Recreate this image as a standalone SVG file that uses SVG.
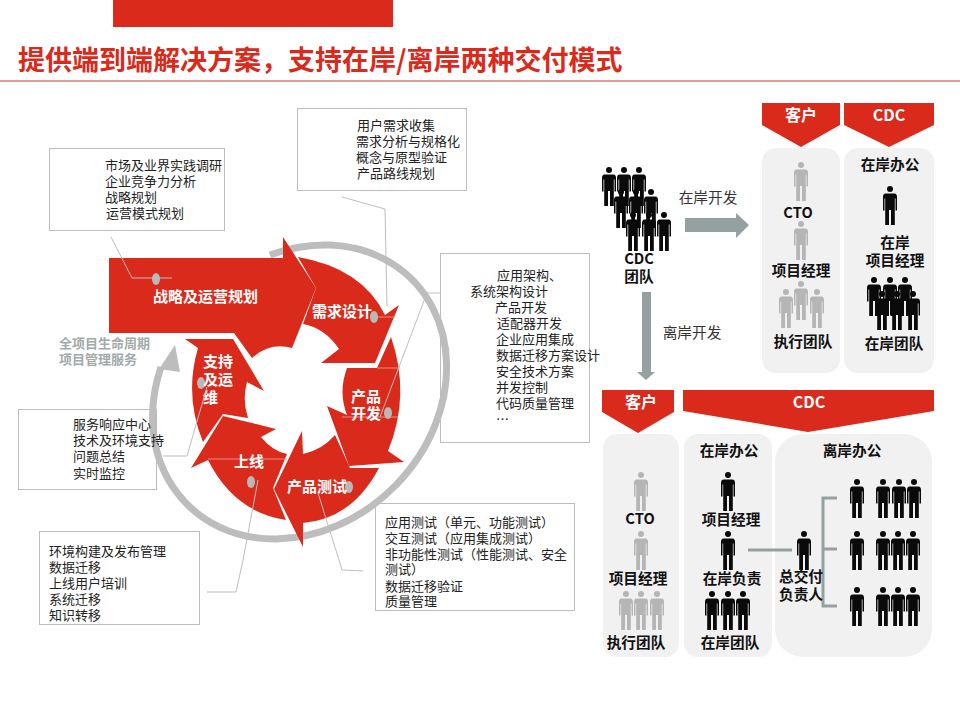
<svg xmlns="http://www.w3.org/2000/svg" width="960" height="720" viewBox="0 0 960 720">
<style>
text{font-family:"Noto Sans CJK SC","Noto Sans",sans-serif;dominant-baseline:central;transform:translateY(-2px)}
.box{fill:none;stroke:#bdbdbd;stroke-width:1}
.t{font-size:13px;fill:#222}
.red{fill:#d92a1c}
.w{font-size:15px;font-weight:700;fill:#fff}
.bn{font-size:16px;font-weight:700;fill:#fff;text-anchor:middle}
.k{font-size:14.67px;font-weight:700;fill:#111;text-anchor:middle}
.n{font-size:14.67px;fill:#333;text-anchor:middle}
.g{font-size:13px;font-weight:700;fill:#a3aaaa}
.panel{fill:#f1f1f1}
.lead{fill:none;stroke:#bdbdbd;stroke-width:1}
.pale{fill:none;stroke:#e98a80;stroke-width:1}
.dot{fill:#b9b9b9}
.conn{fill:none;stroke:#95a0a0;stroke-width:3}
.blk{fill:#0a0a0a}
.gry{fill:#b5b5b5}
</style>
<defs>
<g id="p"><circle cx="0" cy="3" r="3"/><path d="M-4.5,7.5H4.5Q7,7.5 7,11V24.5H5.5V12.5H4.8V39H1V24H-1V39H-4.8V12.5H-5.5V24.5H-7V11Q-7,7.5 -4.5,7.5Z"/></g>
</defs>
<rect width="960" height="720" fill="#fff"/>
<g id="header">
<rect class="red" x="113" y="0" width="280" height="27"/>
<text x="18" y="60" font-weight="700" fill="#d92a1c" style="font-size:27px">提供端到端解决方案，支持在岸/离岸两种交付模式</text>
<line x1="0" y1="81" x2="960" y2="81" stroke="#c9392c" stroke-width="1"/>
</g>
<g id="ring">
<path d="M161,367A159,134 -45 1 0 270,255" fill="none" stroke="#bdbdbd" stroke-width="7"/>
<polygon points="175,345 159,369 180,372" fill="#bdbdbd"/>
</g>
<g id="cycle-strategy">
<path class="red" d="M109,258H283V237L316,288L292,348Q270,342 252,358L234,333H109Z"/>
<ellipse class="dot" cx="156" cy="279" rx="4" ry="6"/>
<text class="w" x="153" y="297">战略及运营规划</text>
</g>
<g id="cycle-demand">
<path class="red" d="M298,257L316,288L303,324Q325,328 339,349L321,363H375L399,305L385,315Q362,268 298,257Z"/>
<path class="pale" d="M374,317H395"/>
<ellipse class="dot" cx="374" cy="317" rx="4" ry="6"/>
<text class="w" x="312" y="312">需求设计</text>
</g>
<g id="cycle-dev">
<path class="red" d="M391,337Q411,395 388,451L404,462L349,466L327,406L347,415Q338,392 347,368H377Z"/>
<path class="pale" d="M342,417H398M377,368H400"/>
<ellipse class="dot" cx="388" cy="413" rx="4" ry="6"/>
<text class="w" x="351" y="397">产品</text>
<text class="w" x="351" y="414">开发</text>
</g>
<g id="cycle-test">
<path class="red" d="M379,468Q352,519 303,523V547L274,489L302,431L303,454Q322,450 335,435L350,468Z"/>
<ellipse class="dot" cx="349" cy="487" rx="4" ry="6"/>
<text class="w" x="287" y="487">产品测试</text>
</g>
<g id="cycle-online">
<path class="red" d="M286,520Q234,512 208,460L191,468L223,416L276,429L261,437Q272,451 287,454L273,488Z"/>
<path class="pale" d="M208,459H287"/>
<ellipse class="dot" cx="251" cy="482" rx="4" ry="6"/>
<text class="w" x="234" y="462">上线</text>
</g>
<g id="cycle-support">
<path class="red" d="M185,339H233L264,391L247,382Q242,400 248,418L223,414L203,442Q184,395 198,348Z"/>
<ellipse class="dot" cx="201" cy="383" rx="4" ry="6"/>
<text class="w" x="203" y="362">支持</text>
<text class="w" x="203" y="380">及运</text>
<text class="w" x="203" y="398">维</text>
</g>
<g id="connectors">
<path class="lead" d="M111,237L132,278H172"/>
<path class="lead" d="M342,197L385,209L387,306"/>
<path class="lead" d="M440,293H427L380,417"/>
<path class="lead" d="M318,493L339,560L342,570L363,571"/>
<path class="lead" d="M258,480L243,560L236,592H207"/>
<path class="lead" d="M207,387L187,456H163"/>
</g>
<g id="pm-label">
<text class="g" x="59" y="344">全项目生命周期</text>
<text class="g" x="59" y="360">项目管理服务</text>
</g>
<g id="box-strategy">
<rect class="box" x="49.500" y="148.500" width="175" height="82"/>
<text class="t" x="105" y="166">市场及业界实践调研</text>
<text class="t" x="105" y="182">企业竞争力分析</text>
<text class="t" x="105" y="198">战略规划</text>
<text class="t" x="106" y="214">运营模式规划</text>
</g>
<g id="box-demand">
<rect class="box" x="297.500" y="108.500" width="169" height="82"/>
<text class="t" x="357" y="126">用户需求收集</text>
<text class="t" x="356" y="142">需求分析与规格化</text>
<text class="t" x="356" y="158">概念与原型验证</text>
<text class="t" x="357" y="174">产品路线规划</text>
</g>
<g id="box-dev">
<rect class="box" x="440.500" y="253.500" width="149" height="189"/>
<text class="t" x="497" y="276">应用架构、</text>
<text class="t" x="470" y="292">系统架构设计</text>
<text class="t" x="495" y="308">产品开发</text>
<text class="t" x="497" y="324">适配器开发</text>
<text class="t" x="496" y="340">企业应用集成</text>
<text class="t" x="496" y="356">数据迁移方案设计</text>
<text class="t" x="496" y="372">安全技术方案</text>
<text class="t" x="496" y="388">并发控制</text>
<text class="t" x="496" y="404">代码质量管理</text>
<text class="t" x="496" y="420">…</text>
</g>
<g id="box-support">
<rect class="box" x="18.500" y="409.500" width="138" height="80"/>
<text class="t" x="73" y="425">服务响应中心</text>
<text class="t" x="73" y="441">技术及环境支持</text>
<text class="t" x="73" y="457">问题总结</text>
<text class="t" x="73" y="474">实时监控</text>
</g>
<g id="box-online">
<rect class="box" x="39.500" y="531.500" width="160" height="93"/>
<text class="t" x="49" y="552">环境构建及发布管理</text>
<text class="t" x="49" y="568">数据迁移</text>
<text class="t" x="49" y="584">上线用户培训</text>
<text class="t" x="49" y="600">系统迁移</text>
<text class="t" x="49" y="616">知识转移</text>
</g>
<g id="box-test">
<rect class="box" x="375.500" y="503.500" width="199" height="107"/>
<text class="t" x="385" y="523">应用测试（单元、功能测试）</text>
<text class="t" x="385" y="539">交互测试（应用集成测试）</text>
<text class="t" x="385" y="555">非功能性测试（性能测试、安全</text>
<text class="t" x="385" y="570">测试）</text>
<text class="t" x="385" y="587">数据迁移验证</text>
<text class="t" x="385" y="602">质量管理</text>
</g>
<g id="cdc-team" class="blk">
<use href="#p" x="609" y="167"/><use href="#p" x="624" y="167"/><use href="#p" x="639" y="167"/>
<use href="#p" x="621" y="189"/><use href="#p" x="636" y="189"/><use href="#p" x="651" y="189"/>
<use href="#p" x="633" y="212"/><use href="#p" x="649" y="212"/><use href="#p" x="664" y="212"/>
<text class="k" x="639" y="259">CDC</text>
<text class="k" x="639" y="277">团队</text>
</g>
<g id="onshore-arrow">
<polygon points="685,218 736,218 736,213 749,225 736,238 736,232 685,232" fill="#95a0a0"/>
<text class="n" x="708" y="198">在岸开发</text>
</g>
<g id="offshore-arrow">
<polygon points="642,292 651,292 651,372 655,372 646,380 637,372 642,372" fill="#95a0a0"/>
<text class="n" x="692" y="333">离岸开发</text>
</g>
<g id="top-client">
<polygon class="red" points="762,103 840,103 840,125 801,147 762,125"/>
<text class="bn" x="801" y="116">客户</text>
<rect class="panel" x="762" y="148" width="78" height="225" rx="14"/>
<g class="gry"><use href="#p" x="801" y="162"/><use href="#p" x="801" y="221"/><use href="#p" x="786" y="289"/><use href="#p" x="801" y="281"/><use href="#p" x="817" y="289"/></g>
<text class="k" x="798" y="213">CTO</text>
<text class="k" x="801" y="271">项目经理</text>
<text class="k" x="803" y="342">执行团队</text>
</g>
<g id="top-cdc">
<polygon class="red" points="844,103 934,103 934,125 889,147 844,125"/>
<text class="bn" x="889" y="116">CDC</text>
<rect class="panel" x="844" y="148" width="90" height="225" rx="14"/>
<g class="blk"><use href="#p" x="890" y="186"/><use href="#p" x="874" y="277"/><use href="#p" x="890" y="277"/><use href="#p" x="905" y="277"/><use href="#p" x="882" y="291"/><use href="#p" x="897" y="291"/><use href="#p" x="913" y="291"/></g>
<text class="k" x="890" y="165">在岸办公</text>
<text class="k" x="895" y="243">在岸</text>
<text class="k" x="895" y="261">项目经理</text>
<text class="k" x="894" y="344">在岸团队</text>
</g>
<g id="bottom-client">
<polygon class="red" points="602,390 674,390 674,412 638,433 602,412"/>
<text class="bn" x="641" y="403">客户</text>
<rect class="panel" x="603" y="434" width="76" height="223" rx="14"/>
<g class="gry"><use href="#p" x="641" y="472"/><use href="#p" x="641" y="531"/><use href="#p" x="626" y="591"/><use href="#p" x="641" y="591"/><use href="#p" x="657" y="591"/></g>
<text class="k" x="640" y="519">CTO</text>
<text class="k" x="638" y="579">项目经理</text>
<text class="k" x="636" y="643">执行团队</text>
</g>
<g id="bottom-cdc">
<polygon class="red" points="683,390 934,390 934,411 808,432 683,411"/>
<text class="bn" x="809" y="403">CDC</text>
</g>
<g id="bottom-onshore">
<rect class="panel" x="684" y="434" width="88" height="223" rx="14"/>
<g class="blk"><use href="#p" x="728" y="472"/><use href="#p" x="728" y="531"/><use href="#p" x="712" y="591"/><use href="#p" x="728" y="591"/><use href="#p" x="743" y="591"/></g>
<text class="k" x="729" y="451">在岸办公</text>
<text class="k" x="731" y="520">项目经理</text>
<text class="k" x="732" y="579">在岸负责</text>
<text class="k" x="730" y="643">在岸团队</text>
</g>
<g id="bottom-offshore">
<rect class="panel" x="775" y="434" width="157" height="223" rx="28"/>
<text class="k" x="852" y="451">离岸办公</text>
<path class="conn" d="M748,550H792"/>
<path class="conn" d="M837,498H823V606H837M823,549H837"/>
<g class="blk"><use href="#p" x="804" y="531"/>
<use href="#p" x="857" y="479"/><use href="#p" x="883" y="479"/><use href="#p" x="899" y="479"/><use href="#p" x="914" y="479"/>
<use href="#p" x="857" y="531"/><use href="#p" x="883" y="531"/><use href="#p" x="898" y="531"/><use href="#p" x="913" y="531"/>
<use href="#p" x="857" y="587"/><use href="#p" x="883" y="587"/><use href="#p" x="898" y="587"/><use href="#p" x="913" y="587"/></g>
<text class="k" x="801" y="577">总交付</text>
<text class="k" x="801" y="595">负责人</text>
</g>
</svg>
